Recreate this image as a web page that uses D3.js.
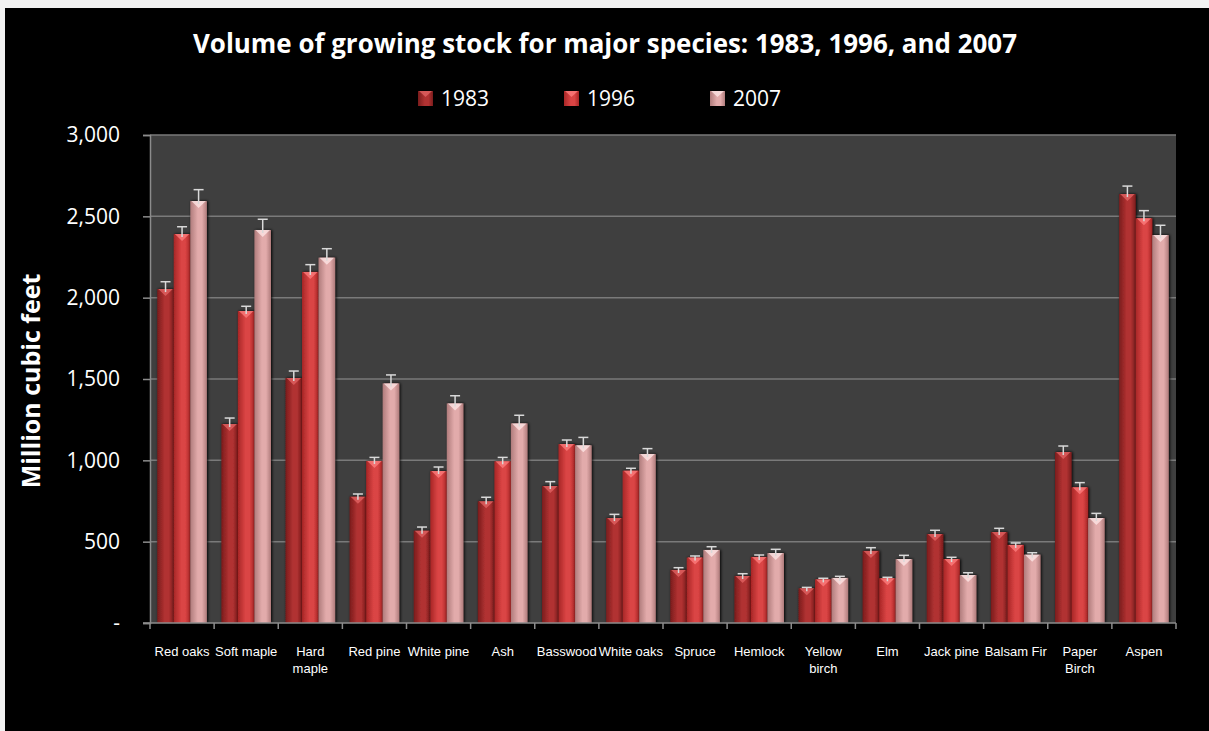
<!DOCTYPE html>
<html>
<head>
<meta charset="utf-8">
<script src="https://cdn.jsdelivr.net/npm/d3@7"></script>
<style>
  body { margin: 0; background: #f2f2f2; }
  svg { display: block; }
</style>
</head>
<body>
<svg></svg>
<script>
// data
let species = ['Red oaks', 'Soft maple', 'Hard maple', 'Red pine', 'White pine', 'Ash', 'Basswood', 'White oaks',
  'Spruce', 'Hemlock', 'Yellow birch', 'Elm', 'Jack pine', 'Balsam Fir', 'Paper Birch', 'Aspen'];
let years = ['1983', '1996', '2007'];
let vol1983 = [2053, 1223, 1506, 776, 567, 748, 842, 645, 326, 289, 213, 443, 547, 559, 1051, 2637];
let vol1996 = [2391, 1918, 2158, 996, 934, 994, 1100, 936, 402, 406, 268, 275, 393, 480, 834, 2488];
let vol2007 = [2594, 2416, 2246, 1473, 1350, 1227, 1092, 1039, 449, 430, 277, 393, 295, 420, 645, 2385];
let err1983 = [45, 37, 43, 17, 23, 25, 27, 23, 14, 14, 6, 20, 23, 23, 37, 49];
let err1996 = [45, 29, 45, 22, 25, 24, 25, 15, 10, 12, 7, 6, 11, 12, 29, 47];
let err2007 = [70, 66, 55, 52, 47, 50, 49, 33, 20, 23, 10, 23, 14, 12, 29, 60];
let yTicks = [0, 500, 1000, 1500, 2000, 2500, 3000];

let width = 1209;
let height = 731;
let svg = d3.select('svg').attr('width', width).attr('height', height);

let plot = { left: 150, right: 1176, top: 135, bottom: 623 };

// colours per series: edge, centre, top chevron
let palette = {
  '1983': ['#7a1c1c', '#b13232', '#e46666'],
  '1996': ['#a82626', '#da4444', '#ff8080'],
  '2007': ['#b07c7c', '#e2abab', '#ffe8e8']
};

let defs = svg.append('defs');
years.forEach(y => {
  let g = defs.append('linearGradient').attr('id', 'g' + y).attr('x1', 0).attr('x2', 1).attr('y1', 0).attr('y2', 0);
  g.append('stop').attr('offset', '0%').attr('stop-color', palette[y][0]);
  g.append('stop').attr('offset', '45%').attr('stop-color', palette[y][1]);
  g.append('stop').attr('offset', '70%').attr('stop-color', palette[y][1]);
  g.append('stop').attr('offset', '100%').attr('stop-color', palette[y][0]);
});
let shadow = defs.append('filter').attr('id', 'shadow').attr('x', '-30%').attr('width', '160%');
shadow.append('feGaussianBlur').attr('in', 'SourceAlpha').attr('stdDeviation', 1.5).attr('result', 'b');
shadow.append('feOffset').attr('in', 'b').attr('dx', 1).attr('dy', 0).attr('result', 'o');
let merge = shadow.append('feMerge');
merge.append('feMergeNode').attr('in', 'o');
merge.append('feMergeNode').attr('in', 'SourceGraphic');

// black chart background with the light frame showing at top/left
svg.append('rect').attr('x', 5).attr('y', 8).attr('width', width - 5).attr('height', height - 8).attr('fill', '#000');

// scales
let x0 = d3.scaleBand().domain(species).range([plot.left, plot.right]);
let x1 = d3.scaleBand().domain(years).range([0, x0.bandwidth()]).paddingOuter(0.44);
let y = d3.scaleLinear().domain([0, 3000]).range([plot.bottom, plot.top]);

// plot area + gridlines
svg.append('rect')
  .attr('x', plot.left).attr('y', plot.top)
  .attr('width', plot.right - plot.left).attr('height', plot.bottom - plot.top)
  .attr('fill', '#3f3f3f');

svg.append('g')
  .selectAll('line')
  .data(yTicks.filter(d => d > 0))
  .enter()
  .append('line')
    .attr('x1', plot.left).attr('x2', plot.right)
    .attr('y1', d => y(d)).attr('y2', d => y(d))
    .attr('stroke', '#7a7a7a').attr('stroke-width', 1.5);

// build rows per species
let rows = species.map((s, i) => ({
  name: s,
  bars: [
    { year: '1983', value: vol1983[i], err: err1983[i] },
    { year: '1996', value: vol1996[i], err: err1996[i] },
    { year: '2007', value: vol2007[i], err: err2007[i] }
  ]
}));

let groups = svg.append('g')
  .selectAll('g')
  .data(rows)
  .enter()
  .append('g')
    .attr('transform', d => `translate(${x0(d.name)},0)`);

let bars = groups.selectAll('g.bar')
  .data(d => d.bars)
  .enter()
  .append('g')
    .classed('bar', true);

bars.append('rect')
  .attr('x', d => x1(d.year))
  .attr('y', d => y(d.value))
  .attr('width', x1.bandwidth())
  .attr('height', d => y(0) - y(d.value))
  .attr('fill', d => `url(#g${d.year})`)
  .attr('filter', 'url(#shadow)');

// lighter chevron at the top of each bar
bars.append('path')
  .attr('d', d => {
    let bx = x1(d.year), bw = x1.bandwidth(), top = y(d.value);
    return `M${bx + 1},${top} L${bx + bw - 1},${top} L${bx + bw / 2},${top + 7} Z`;
  })
  .attr('fill', d => palette[d.year][2])
  .attr('opacity', 0.75);

// error bars
bars.append('line')
  .attr('x1', d => x1(d.year) + x1.bandwidth() / 2)
  .attr('x2', d => x1(d.year) + x1.bandwidth() / 2)
  .attr('y1', d => y(d.value) + 3)
  .attr('y2', d => y(d.value + d.err))
  .attr('stroke', '#d9d9d9').attr('stroke-width', 1.5);

bars.append('line')
  .attr('x1', d => x1(d.year) + x1.bandwidth() / 2 - 5)
  .attr('x2', d => x1(d.year) + x1.bandwidth() / 2 + 5)
  .attr('y1', d => y(d.value + d.err))
  .attr('y2', d => y(d.value + d.err))
  .attr('stroke', '#d9d9d9').attr('stroke-width', 1.5);

// y axis
let yAxis = svg.append('g')
  .attr('transform', `translate(${plot.left},0)`)
  .call(d3.axisLeft(y).tickValues(yTicks).tickSize(7).tickPadding(23)
    .tickFormat(d => d === 0 ? '-' : d3.format(',')(d)));
yAxis.select('.domain').attr('stroke', '#8c8c8c').attr('stroke-width', 1.5);
yAxis.selectAll('.tick line').attr('stroke', '#8c8c8c').attr('stroke-width', 1.5);
yAxis.selectAll('text')
  .attr('fill', '#fff')
  .style('font-family', 'Open Sans, sans-serif')
  .style('font-size', '21px');

// x axis: ticks at category boundaries
let xAxis = svg.append('g');
xAxis.append('line')
  .attr('x1', plot.left - 7).attr('x2', plot.right)
  .attr('y1', plot.bottom).attr('y2', plot.bottom)
  .attr('stroke', '#8c8c8c').attr('stroke-width', 1.5);
xAxis.selectAll('line.tk')
  .data(species.concat(['end']))
  .enter()
  .append('line')
    .classed('tk', true)
    .attr('x1', (d, i) => i < species.length ? x0(d) : plot.right)
    .attr('x2', (d, i) => i < species.length ? x0(d) : plot.right)
    .attr('y1', plot.bottom).attr('y2', plot.bottom + 6)
    .attr('stroke', '#8c8c8c').attr('stroke-width', 1.5);

// category labels, two-word names wrap where the original wraps
let wrapped = { 'Hard maple': ['Hard', 'maple'], 'Yellow birch': ['Yellow', 'birch'], 'Paper Birch': ['Paper', 'Birch'] };
let labels = xAxis.selectAll('text')
  .data(species)
  .enter()
  .append('text')
    .attr('x', d => x0(d) + x0.bandwidth() / 2)
    .attr('y', plot.bottom + 33)
    .attr('text-anchor', 'middle')
    .attr('fill', '#fff')
    .style('font-family', 'Liberation Sans Narrow, Arial Narrow, sans-serif')
    .style('font-stretch', 'condensed')
    .style('font-size', '13px');
labels.each(function(d) {
  let lines = wrapped[d] || [d];
  d3.select(this).selectAll('tspan')
    .data(lines)
    .enter()
    .append('tspan')
      .attr('x', x0(d) + x0.bandwidth() / 2)
      .attr('dy', (l, i) => i === 0 ? 0 : 17)
      .text(l => l);
});

// title
svg.append('text')
  .attr('x', 605).attr('y', 53)
  .attr('text-anchor', 'middle')
  .attr('fill', '#fff')
  .attr('textLength', 824).attr('lengthAdjust', 'spacingAndGlyphs')
  .style('font-family', 'Open Sans, sans-serif')
  .style('font-weight', 'bold')
  .style('font-size', '26px')
  .text('Volume of growing stock for major species: 1983, 1996, and 2007');

// y axis title
svg.append('text')
  .attr('transform', 'translate(40,381) rotate(-90)')
  .attr('text-anchor', 'middle')
  .attr('fill', '#fff')
  .style('font-family', 'Open Sans, sans-serif')
  .style('font-weight', 'bold')
  .style('font-size', '25px')
  .text('Million cubic feet');

// legend
let legend = svg.append('g')
  .selectAll('g')
  .data(years)
  .enter()
  .append('g')
    .attr('transform', (d, i) => `translate(${418 + i * 146},91)`);
legend.append('rect')
  .attr('width', 15).attr('height', 15)
  .attr('fill', d => `url(#g${d})`);
legend.append('path')
  .attr('d', 'M1,0 L14,0 L7.5,6 Z')
  .attr('fill', d => palette[d][2])
  .attr('opacity', 0.75);
legend.append('text')
  .attr('x', 23).attr('y', 15)
  .attr('fill', '#fff')
  .style('font-family', 'Open Sans, sans-serif')
  .style('font-size', '21px')
  .text(d => d);
</script>
</body>
</html>
